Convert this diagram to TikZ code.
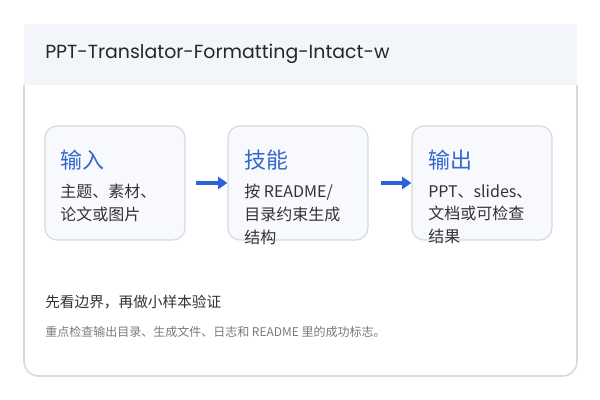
\documentclass[tikz,border=0pt]{standalone}
\usepackage{fontspec}
\setmainfont{Noto Sans CJK SC}
\newfontfamily\titlefont{Poppins}
\usetikzlibrary{arrows.meta, positioning}
\definecolor{cardline}{HTML}{D5DBE3}
\definecolor{headfill}{HTML}{F2F6FA}
\definecolor{boxfill}{HTML}{F7F9FC}
\definecolor{boxline}{HTML}{D3DAE4}
\definecolor{headblue}{HTML}{3568CC}
\definecolor{arrowblue}{HTML}{2A62D9}
\definecolor{bodytext}{HTML}{333333}
\definecolor{subtext}{HTML}{7A7A7A}
\tikzset{
    stagebox/.style={draw=boxline, line width=0.9pt, fill=boxfill, rounded corners=9pt,
        minimum width=105pt, minimum height=85.5pt, inner sep=0pt},
    stagehead/.style={anchor=west, text=headblue, font=\fontsize{16.5}{19}\selectfont, inner sep=0pt},
    stagebody/.style={anchor=north west, text=bodytext, align=left, inner sep=0pt,
        font=\fontsize{12}{17}\selectfont},
    flowarrow/.style={draw=arrowblue, line width=3pt, -{Triangle[length=7pt, width=9pt]}}
}
\begin{document}
\begin{tikzpicture}[x=0.75pt, y=-0.75pt]
                \useasboundingbox (0,0) rectangle (600,400);
                \fill[white] (0,0) rectangle (600,400);
                \draw[cardline, line width=1.2pt, rounded corners=11pt]
                    (24,85) -- (24,376) -- (577,376) -- (577,85);
                \fill[headfill] (24,24) rectangle (577,85);
                \node[anchor=west, inner sep=0pt, text=black!85,
                    font=\titlefont\fontsize{14.2}{17}\selectfont] (title) at (45,54)
                    {PPT-Translator-Formatting-Intact-w};
                \node[stagebox] (input) at (115,183) {};
                \node[stagebox] (skill) at (298,183) {};
                \node[stagebox] (output) at (482,183) {};
                \node[stagehead] (inputhead) at (60,160) {输入};
                \node[stagehead] (skillhead) at (244,160) {技能};
                \node[stagehead] (outputhead) at (428,160) {输出};
                \node[stagebody] (inputbody) at (60,184) {主题、素材、\\论文或图片};
                \node[stagebody] (skillbody) at (244,184) {按 README/\\目录约束生成\\结构};
                \node[stagebody] (outputbody) at (428,184) {PPT、slides、\\文档或可检查\\结果};
                \draw[flowarrow] ([xshift=8]input.east) -- (skill.west);
                \draw[flowarrow] ([xshift=9]skill.east) -- (output.west);
                \node[anchor=west, inner sep=0pt, text=bodytext,
                    font=\fontsize{11}{14}\selectfont] (note) at (45,302)
                    {先看边界，再做小样本验证};
                \node[anchor=west, inner sep=0pt, text=subtext,
                    font=\fontsize{9}{11}\selectfont] (detail) at (45,332)
                    {重点检查输出目录、生成文件、日志和 README 里的成功标志。};
\end{tikzpicture}
\end{document}
